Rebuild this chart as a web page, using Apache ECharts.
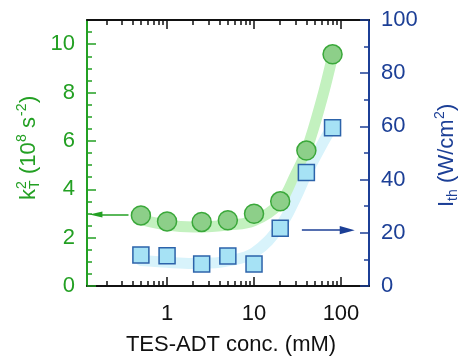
<!DOCTYPE html>
<html>
<head>
<meta charset="utf-8">
<script src="https://cdn.jsdelivr.net/npm/echarts@6/dist/echarts.min.js"></script>
<style>
  html, body { margin: 0; padding: 0; background: #fff; }
  #chart { width: 462px; height: 358px; }
</style>
</head>
<body>
<div id="chart"></div>
<script>
// TES-ADT concentration (mM) of each sample
const concentrations = [0.5, 1, 2.5, 5, 10, 20, 40, 80];
// k_T^2 (10^8 s^-2), left axis
const kT2 = [2.92, 2.67, 2.65, 2.72, 2.99, 3.5, 5.6, 9.58];
// Threshold intensity I_th (W/cm^2), right axis
const ith = [11.7, 11.4, 8.3, 11.3, 8.3, 21.7, 42.7, 59.5];

// Guide-to-the-eye curves
const guideConc = [0.5, 1, 2, 3, 5, 10, 20, 30, 40, 60, 80];
const kT2Guide = [2.75, 2.52, 2.44, 2.45, 2.52, 2.7, 3.45, 4.6, 5.6, 7.7, 9.5];
const ithGuide = [9.6, 8.9, 8.5, 8.6, 9.4, 12.5, 22.5, 33, 42, 53, 60];

// Axis ticks
const xMajorTicks = [1, 10, 100];
const xMinorTicks = [0.2, 0.3, 0.4, 0.5, 0.6, 0.7, 0.8, 0.9,
                     2, 3, 4, 5, 6, 7, 8, 9,
                     20, 30, 40, 50, 60, 70, 80, 90];
const leftTicks = [0, 2, 4, 6, 8, 10];

// Arrows pointing each data set to its axis
const kArrow = [[0.36, 2.96], [0.152, 2.96]];
const iArrow = [[35.5, 21], [118, 21]];

const GREEN = '#23a023';
const BLUE = '#1c3f96';
const FONT = 'Liberation Sans, Arial, sans-serif';

const zip = (a, b) => a.map((v, i) => [v, b[i]]);

const chart = echarts.init(document.getElementById('chart'), null, { renderer: 'canvas' });

function xAxisDef(position, ticks, len, showLine, showLabel) {
  return {
    type: 'log', logBase: 10, min: 0.12, max: 210, position: position,
    axisLine: { show: showLine, onZero: false, lineStyle: { color: '#111', width: 2 } },
    axisTick: { show: true, inside: true, length: len, customValues: ticks,
                lineStyle: { color: '#111', width: 1.5 } },
    axisLabel: { show: showLabel, customValues: xMajorTicks, fontSize: 22, color: '#111',
                 fontFamily: FONT, margin: 17, formatter: v => String(v) },
    splitLine: { show: false }, minorTick: { show: false }
  };
}

// Narrow triangular arrow heads (the first sub-path only widens the box)
const greenHead = 'path://M0,0 L14,0 M7,0 L10.2,14 L3.8,14 Z';
const blueHead = 'path://M0,0 L14,0 M7,0 L10.8,14 L3.2,14 Z';

const option = {
  animation: false,
  backgroundColor: '#fff',
  grid: { left: 87, right: 93, top: 20, bottom: 72 },
  xAxis: [
    xAxisDef('bottom', xMajorTicks, 9, true, true),
    xAxisDef('bottom', xMinorTicks, 5, false, false),
    xAxisDef('top', xMajorTicks, 9, true, false),
    xAxisDef('top', xMinorTicks, 5, false, false)
  ],
  yAxis: [
    {
      type: 'value', min: 0, max: 11, interval: 2, position: 'left',
      axisLine: { show: true, onZero: false, lineStyle: { color: GREEN, width: 2 } },
      axisTick: { show: true, inside: true, length: 9, customValues: leftTicks,
                  lineStyle: { color: GREEN, width: 1.5 } },
      minorTick: { show: true, splitNumber: 4, length: 5, lineStyle: { color: GREEN, width: 1.5 } },
      axisLabel: { customValues: leftTicks, fontSize: 22, color: GREEN, fontFamily: FONT, margin: 12 },
      splitLine: { show: false }
    },
    {
      type: 'value', min: 0, max: 100, interval: 20, position: 'right',
      axisLine: { show: true, onZero: false, lineStyle: { color: BLUE, width: 2 } },
      axisTick: { show: true, inside: true, length: 9, lineStyle: { color: BLUE, width: 1.5 } },
      minorTick: { show: true, splitNumber: 2, length: 5, lineStyle: { color: BLUE, width: 1.5 } },
      axisLabel: { fontSize: 22, color: BLUE, fontFamily: FONT, margin: 12 },
      splitLine: { show: false }
    }
  ],
  series: [
    {
      type: 'line', xAxisIndex: 0, yAxisIndex: 0, data: zip(guideConc, kT2Guide),
      smooth: 0.4, showSymbol: false, symbol: 'none', z: 1, silent: true,
      lineStyle: { color: '#c3f1bf', width: 11, cap: 'round' }
    },
    {
      type: 'line', xAxisIndex: 0, yAxisIndex: 1, data: zip(guideConc, ithGuide),
      smooth: 0.4, showSymbol: false, symbol: 'none', z: 1, silent: true,
      lineStyle: { color: '#d8f3fb', width: 11, cap: 'round' }
    },
    {
      type: 'scatter', xAxisIndex: 0, yAxisIndex: 0, data: zip(concentrations, kT2),
      symbol: 'circle', symbolSize: 19, z: 3,
      itemStyle: { color: '#8dcf89', borderColor: '#3aa83a', borderWidth: 1.5, opacity: 1 }
    },
    {
      type: 'scatter', xAxisIndex: 0, yAxisIndex: 1, data: zip(concentrations, ith),
      symbol: 'rect', symbolSize: 16, z: 3,
      itemStyle: { color: '#a6e2f5', borderColor: '#2c63aa', borderWidth: 1.5, opacity: 1 }
    },
    {
      type: 'lines', coordinateSystem: 'cartesian2d', xAxisIndex: 0, yAxisIndex: 0, z: 4,
      data: [{ coords: kArrow }],
      symbol: ['none', greenHead], symbolSize: [1, 13],
      lineStyle: { color: GREEN, width: 1.5, opacity: 1 }
    },
    {
      type: 'lines', coordinateSystem: 'cartesian2d', xAxisIndex: 0, yAxisIndex: 1, z: 4,
      data: [{ coords: iArrow }],
      symbol: ['none', blueHead], symbolSize: [1, 15],
      lineStyle: { color: BLUE, width: 1.5, opacity: 1 }
    }
  ],
  graphic: [
    {
      type: 'text', left: 'center', x: 0, top: 334,
      style: { text: 'TES-ADT conc. (mM)', font: '22px ' + FONT, fill: '#111' }
    },
    {
      // left axis title, reading bottom to top
      type: 'group', x: 29, y: 200, rotation: Math.PI / 2,
      children: [
        { type: 'text', x: 0, y: 0, style: { text: 'k', font: '22px ' + FONT, fill: GREEN, verticalAlign: 'middle' } },
        { type: 'text', x: 11, y: -7, style: { text: '2', font: '14px ' + FONT, fill: GREEN, verticalAlign: 'middle' } },
        { type: 'text', x: 11, y: 6, style: { text: 'T', font: '14px ' + FONT, fill: GREEN, verticalAlign: 'middle' } },
        { type: 'text', x: 26, y: 0, style: { text: '(10', font: '22px ' + FONT, fill: GREEN, verticalAlign: 'middle' } },
        { type: 'text', x: 58, y: -7, style: { text: '8', font: '14px ' + FONT, fill: GREEN, verticalAlign: 'middle' } },
        { type: 'text', x: 66, y: 0, style: { text: ' s', font: '22px ' + FONT, fill: GREEN, verticalAlign: 'middle' } },
        { type: 'text', x: 84, y: -7, style: { text: '-2', font: '14px ' + FONT, fill: GREEN, verticalAlign: 'middle' } },
        { type: 'text', x: 97, y: 0, style: { text: ')', font: '22px ' + FONT, fill: GREEN, verticalAlign: 'middle' } }
      ]
    },
    {
      // right axis title, reading bottom to top
      type: 'group', x: 447, y: 207, rotation: Math.PI / 2,
      children: [
        { type: 'text', x: 0, y: 0, style: { text: 'I', font: '22px ' + FONT, fill: BLUE, verticalAlign: 'middle' } },
        { type: 'text', x: 6, y: 6, style: { text: 'th', font: '14px ' + FONT, fill: BLUE, verticalAlign: 'middle' } },
        { type: 'text', x: 18, y: 0, style: { text: ' (W/cm', font: '22px ' + FONT, fill: BLUE, verticalAlign: 'middle' } },
        { type: 'text', x: 88, y: -7, style: { text: '2', font: '14px ' + FONT, fill: BLUE, verticalAlign: 'middle' } },
        { type: 'text', x: 96, y: 0, style: { text: ')', font: '22px ' + FONT, fill: BLUE, verticalAlign: 'middle' } }
      ]
    }
  ]
};

chart.setOption(option);
</script>
</body>
</html>
